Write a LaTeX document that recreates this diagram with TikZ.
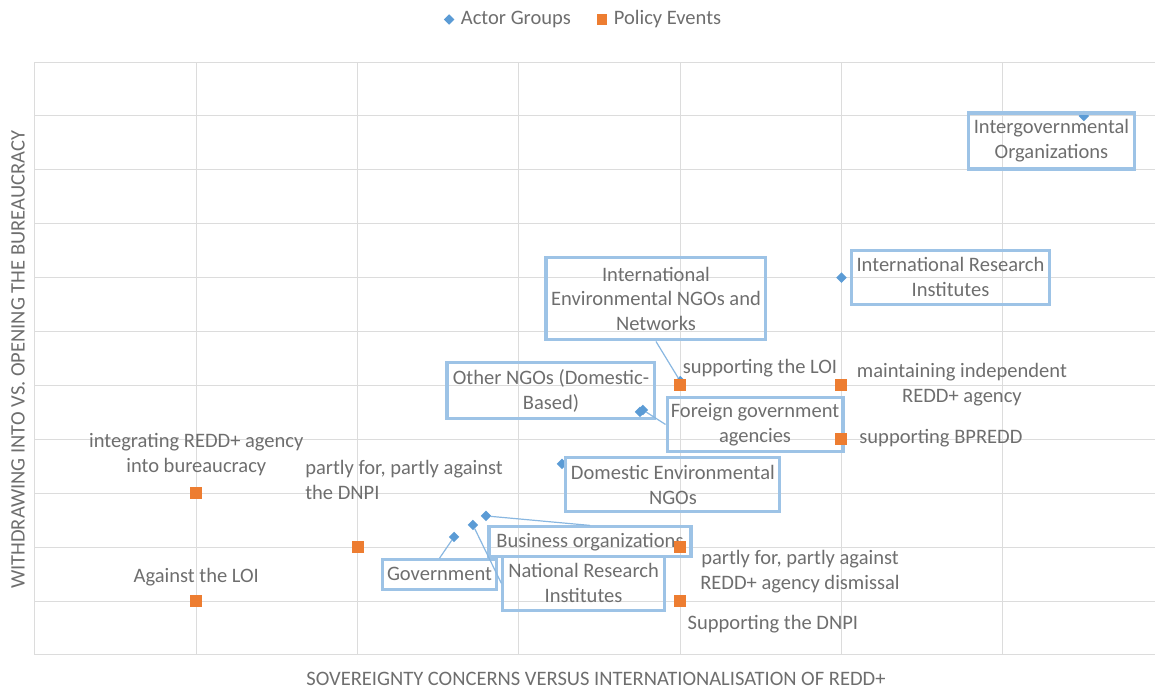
\documentclass[tikz,border=0pt]{standalone}
\usepackage{fontspec}
\setmainfont{Carlito}
\usetikzlibrary{shapes.geometric,positioning}
\definecolor{txtgrey}{HTML}{6E6E6E}
\definecolor{gridgrey}{HTML}{DCDCDC}
\definecolor{actorblue}{HTML}{5B9BD5}
\definecolor{boxblue}{HTML}{9DC3E6}
\definecolor{eventorange}{HTML}{ED7D31}
\tikzset{
  actor/.style={diamond,fill=actorblue,inner sep=0pt,minimum size=8pt},
  event/.style={rectangle,fill=eventorange,inner sep=0pt,minimum size=9pt},
  callout/.style={draw=boxblue,line width=2.3pt,align=center,inner sep=0pt},
  leader/.style={draw=boxblue!70!actorblue,line width=0.9pt},
  evtext/.style={align=center,inner sep=0pt}
}
\begin{document}
\begin{tikzpicture}[x=121pt,y=40.43pt,font=\fontsize{15.4}{18.75}\selectfont,text=txtgrey]
    \useasboundingbox(-0.217,-0.631)rectangle(6.944,12.152);
    \draw[gridgrey,line width=0.75pt,step=1](0,0)grid(6.944,11);
    \draw[gridgrey,line width=0.75pt](0,0)--(6.944,0);

    % legend
    \node[actor](legactor)at(2.567,11.79){};
    \node[evtext,right=4.5pt of legactor](legactortxt){Actor Groups};
    \node[event,minimum size=8pt](legevent)at(3.515,11.79){};
    \node[evtext,right=4.5pt of legevent](legeventtxt){Policy Events};

    % axis titles
    \node[evtext](xtitle)at(3.478,-0.445){SOVEREIGNTY CONCERNS VERSUS INTERNATIONALISATION OF REDD+};
    \node[evtext,rotate=90](ytitle)at(-0.105,5.473){WITHDRAWING INTO VS. OPENING THE BUREAUCRACY};

    % actor groups
    \node[actor](igo)at(6.503,10){};
    \node[actor](iri)at(5,7){};
    \node[actor](iengo)at(4,5.08){};
    \node[actor](othngo)at(3.751,4.508){};
    \node[actor](fga)at(3.769,4.545){};
    \node[actor](dengo)at(3.267,3.544){};
    \node[actor](bus)at(2.796,2.579){};
    \node[actor](nri)at(2.715,2.412){};
    \node[actor](gov)at(2.598,2.189){};

    \node[callout,minimum width=125pt,minimum height=42pt](igolbl)at(6.302,9.536){Intergovernmental\\Organizations};
    \node[callout,minimum width=149pt,minimum height=41pt](irilbl)at(5.676,7.004){International Research\\Institutes};
    \node[callout,minimum width=165pt,minimum height=61.5pt](iengolbl)at(3.850,6.605){International\\Environmental NGOs and\\Networks};
    \node[callout,minimum width=156pt,minimum height=42pt](othlbl)at(3.199,4.898){Other NGOs (Domestic-\\Based)};
    \node[callout,minimum width=132pt,minimum height=41pt](fgalbl)at(4.464,4.276){Foreign government\\agencies};
    \node[callout,minimum width=160.5pt,minimum height=40.5pt](dengolbl)at(3.955,3.154){Domestic Environmental\\NGOs};
    \node[callout,minimum width=151.5pt,minimum height=22.5pt](buslbl)at(3.441,2.096){Business organizations};
    \node[callout,minimum width=121pt,minimum height=40pt](nrilbl)at(3.401,1.327){National Research\\Institutes};
    \node[callout,minimum width=86pt,minimum height=22pt](govlbl)at(2.508,1.494){Government};

    \draw[leader](iengo)--(iengolbl.south);
    \draw[leader](fga)--(fgalbl.west);
    \draw[leader](bus)--(buslbl.north);
    \draw[leader](nri)--(nrilbl.west);
    \draw[leader](gov)--(govlbl.north);

    % policy events
    \node[event](evintegr)at(1,3){};
    \node[event](evagainst)at(1,1){};
    \node[event](evpartdnpi)at(2,2){};
    \node[event](evsuploi)at(4,5){};
    \node[event](evpartdism)at(4,2){};
    \node[event](evsupdnpi)at(4,1){};
    \node[event](evmaint)at(5,5){};
    \node[event](evbpredd)at(5,4){};

    \node[evtext](integrtxt)at(1,3.71){integrating REDD+ agency\\into bureaucracy};
    \node[evtext](againsttxt)at(1,1.447){Against the LOI};
    \node[evtext,align=left,anchor=west](partdnpitxt)at(1.674,3.247){partly for, partly against\\the DNPI};
    \node[evtext](suploitxt)at(4.495,5.325){supporting the LOI};
    \node[evtext](mainttxt)at(5.747,5.009){maintaining independent\\REDD+ agency};
    \node[evtext](bpreddtxt)at(5.617,4.026){supporting BPREDD};
    \node[evtext](partdismtxt)at(4.743,1.54){partly for, partly against\\REDD+ agency dismissal};
    \node[evtext](supdnpitxt)at(4.575,0.575){Supporting the DNPI};
\end{tikzpicture}
\end{document}
